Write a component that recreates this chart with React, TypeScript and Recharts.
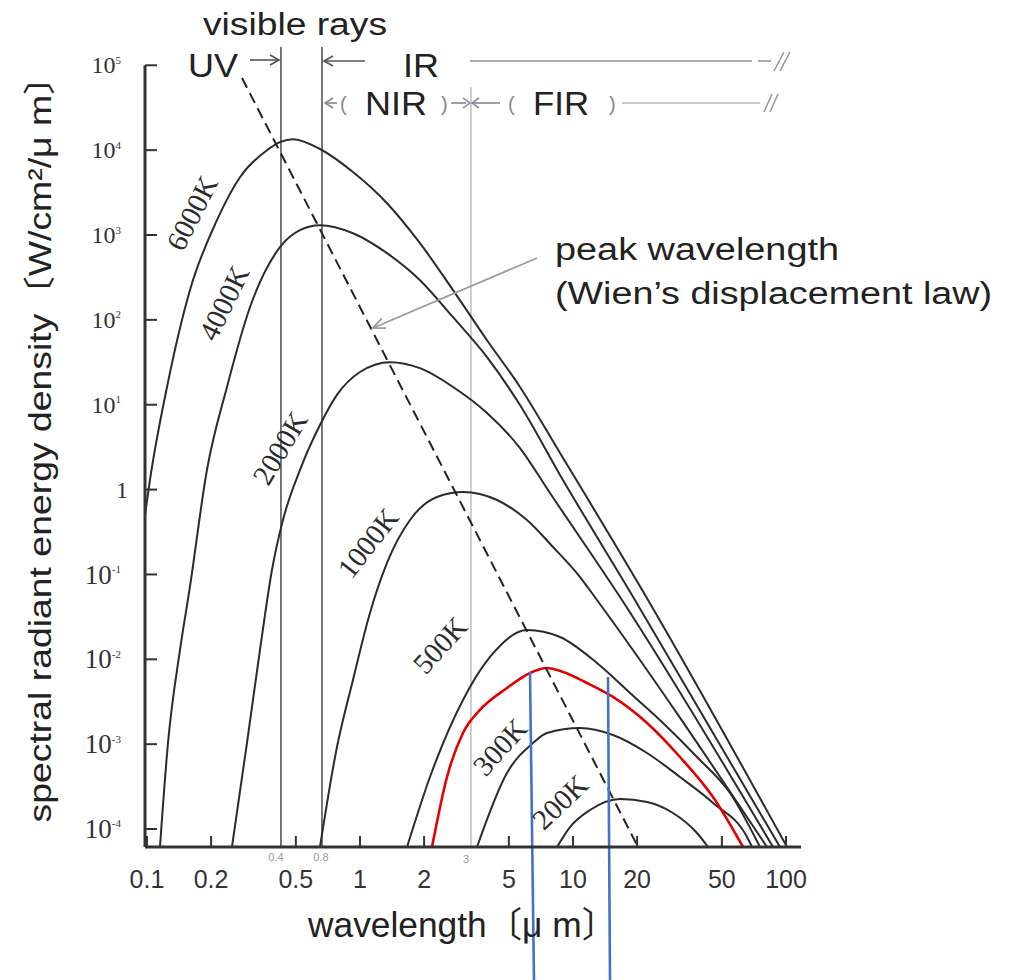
import React from "react";
import { LineChart, Line, XAxis, YAxis, ReferenceLine, ReferenceDot } from "recharts";

type Pt = { x: number; y: number };
const toPts = (rows: number[][]): Pt[] => rows.map(([x, y]) => ({ x, y }));

// axes (log-log): wavelength in µm, spectral radiant energy density in W/cm²/µm
const xTicks = [0.1, 0.2, 0.5, 1, 2, 5, 10, 20, 50, 100];
const yTicks = [1e-4, 1e-3, 1e-2, 1e-1, 1, 1e1, 1e2, 1e3, 1e4, 1e5];
const xDomain = [0.0979, 117.6];
const yDomain = [6.14e-5, 1e5];

// curves
const k6000 = toPts([
  [0.0979, 0.502], [0.1033, 1.3], [0.1242, 16.2], [0.1591, 224], [0.2131, 1495],
  [0.2733, 4800], [0.366, 9990], [0.421, 12410], [0.4846, 13470], [0.6489, 10320],
  [0.9271, 5518], [1.339, 2371], [1.913, 801], [2.734, 224],
  [3.948, 57.6], [5.639, 16.2], [8.69, 2.7], [10.79, 1.1], [22.5, 0.05], [101.1, 6.14e-5],
]);
const k4000 = toPts([
  [0.1151, 6.14e-5], [0.1255, 1.03e-3], [0.1429, 0.0129], [0.1591, 0.0712], [0.1912, 1.7],
  [0.2375, 16.2], [0.3045, 141], [0.421, 719], [0.5226, 1140], [0.6489, 1305],
  [0.9271, 1050], [1.339, 611], [1.913, 293.5], [2.734, 107.5],
  [3.948, 36.3], [5.639, 9.93], [8.69, 1.49], [18.92, 0.0573], [93.72, 6.14e-5],
]);
const k2000 = toPts([
  [0.2506, 6.14e-5], [0.2947, 1.03e-3], [0.3393, 0.0129], [0.3862, 0.1129], [0.4349, 0.438],
  [0.5226, 1.7], [0.6489, 5.77], [0.7798, 13.06], [1.0, 24.3], [1.383, 31.72],
  [1.913, 26.96], [2.734, 16.19], [3.948, 7.99], [5.639, 3.09], [7.798, 0.912],
  [16.98, 0.05], [86.9, 6.14e-5],
]);
const k1000 = toPts([
  [0.6489, 6.14e-5], [0.7798, 9.26e-4], [0.9271, 5.71e-3], [1.114, 0.0351], [1.339, 0.1365],
  [1.717, 0.438], [2.299, 0.818], [3.045, 0.937], [4.397, 0.754], [6.081, 0.438],
  [8.055, 0.2107], [10.79, 0.0933], [12.96, 0.05], [81.43, 6.14e-5],
]);
const k500 = toPts([
  [1.663, 6.14e-5], [2.131, 4.1e-4], [3.045, 3.32e-3], [4.077, 0.01065], [6.081, 0.02215],
  [8.69, 0.01832], [12.96, 0.00905], [18.52, 0.00401], [26.46, 0.001776], [38.21, 7.06e-4],
  [54.59, 2.66e-4], [75.5, 6.14e-5],
]);
const redCurve = toPts([
  [2.178, 6.14e-5], [2.562, 4.1e-4], [3.045, 1.354e-3], [3.66, 2.53e-3], [4.899, 4.59e-3],
  [6.283, 6.9e-3], [7.55, 7.9e-3], [8.977, 7.09e-3], [11.63, 5.26e-3], [15.41, 3.6e-3],
  [22.26, 1.776e-3], [31.79, 7.06e-4], [45.43, 2.38e-4], [62.84, 6.14e-5],
]);
const k300 = toPts([
  [3.543, 6.14e-5], [4.899, 4.57e-4], [6.49, 1.032e-3], [7.55, 1.354e-3], [10.79, 1.551e-3],
  [15.41, 1.282e-3], [22.26, 7.87e-4], [31.79, 4.1e-4], [45.43, 2.03e-4], [65.62, 8.05e-5],
  [69.26, 6.14e-5],
]);
const k200 = toPts([
  [8.413, 6.14e-5], [9.681, 1.056e-4], [12.02, 1.676e-4], [16.63, 2.26e-4], [22.26, 2.08e-4],
  [29.48, 1.545e-4], [38.21, 8.98e-5], [43.04, 6.14e-5],
]);
// Wien's displacement line
const wienLine = toPts([[0.2793, 7.09e4], [20.2, 6.14e-5]]);

const curveLabels = [
  { text: "6000K", x: 0.1627, y: 1817, angle: -63 },
  { text: "4000K", x: 0.2298, y: 158.1, angle: -64 },
  { text: "2000K", x: 0.421, y: 3.092, angle: -59 },
  { text: "1000K", x: 1.09, y: 0.2348, angle: -52 },
  { text: "500K", x: 2.375, y: 0.01467, angle: -48 },
  { text: "300K", x: 4.543, y: 9.26e-4, angle: -48 },
  { text: "200K", x: 8.69, y: 2.08e-4, angle: -44 },
];

// visible band edges (0.4 and 0.8 µm) and NIR/FIR boundary (3 µm)
const visibleEdges = [0.4256, 0.6631];
const firEdge = 3.32;
const blueMarkers = [
  [{ x: 6.283, y: 7.09e-3 }, { x: 6.56, y: 1.66e-6 }],
  [{ x: 14.6, y: 6.19e-3 }, { x: 14.92, y: 1.66e-6 }],
];
const peakArrow = [{ x: 6.78, y: 536 }, { x: 1.151, y: 80.2 }];

const series = [
  { key: "6000K", data: k6000, color: "#2b2b2b", width: 2 },
  { key: "4000K", data: k4000, color: "#2b2b2b", width: 2 },
  { key: "2000K", data: k2000, color: "#2b2b2b", width: 2 },
  { key: "1000K", data: k1000, color: "#2b2b2b", width: 2 },
  { key: "500K", data: k500, color: "#2b2b2b", width: 2 },
  { key: "300K", data: k300, color: "#2b2b2b", width: 2 },
  { key: "200K", data: k200, color: "#2b2b2b", width: 2 },
  { key: "red", data: redCurve, color: "#e30000", width: 2.6 },
];

const serif = "'Liberation Serif', 'DejaVu Serif', serif";
const sans = "'Liberation Sans', Arial, 'Noto Sans CJK JP', sans-serif";

function YTick({ x, y, payload }: any) {
  const e = Math.round(Math.log10(payload.value));
  const fs = e >= 0 ? 24 : 27;
  return (
    <g>
      <line x1={x} x2={x + 12} y1={y} y2={y} stroke="#333" strokeWidth={2} />
      {e === 0 ? (
        <text x={x - 17} y={y + fs * 0.34} textAnchor="end" fontFamily={serif} fontSize={fs} fill="#333">1</text>
      ) : (
        <text x={x - 24} y={y + fs * 0.34} textAnchor="end" fontFamily={serif} fontSize={fs} fill="#333">
          10<tspan fontSize={11} dy={-fs * 0.4}>{e}</tspan>
        </text>
      )}
    </g>
  );
}

function XTick({ x, y, payload }: any) {
  return (
    <g>
      <line x1={x} x2={x} y1={y} y2={y - 11} stroke="#333" strokeWidth={2} />
      <text x={x} y={y + 41} textAnchor="middle" fontFamily={sans} fontSize={25} fill="#333">
        {payload.value}
      </text>
    </g>
  );
}

const labelShape = (text: string, angle: number) => (p: any) => (
  <text
    x={p.cx}
    y={p.cy}
    transform={`rotate(${angle} ${p.cx} ${p.cy})`}
    textAnchor="middle"
    dominantBaseline="central"
    fontFamily={serif}
    fontSize={29}
    fill="#2b2b2b"
  >
    {text}
  </text>
);

function ArrowShape(p: any) {
  const { x1, y1, x2, y2 } = p;
  const a = Math.atan2(y2 - y1, x2 - x1);
  const h = 13;
  const w = 0.42;
  const ax = x2 - h * Math.cos(a - w);
  const ay = y2 - h * Math.sin(a - w);
  const bx = x2 - h * Math.cos(a + w);
  const by = y2 - h * Math.sin(a + w);
  return (
    <g>
      <line x1={x1} y1={y1} x2={x2} y2={y2} stroke="#9a9a9a" strokeWidth={1.8} />
      <polyline points={`${ax},${ay} ${x2},${y2} ${bx},${by}`} fill="none" stroke="#9a9a9a" strokeWidth={1.8} />
    </g>
  );
}

function Header() {
  const g = "#555";
  return (
    <svg width={1025} height={980} style={{ position: "absolute", left: 0, top: 0, pointerEvents: "none" }}>
      <g fontFamily={sans} fill="#222">
        <text x={203} y={35} fontSize={31} textLength={184} lengthAdjust="spacingAndGlyphs">visible rays</text>
        <text x={188} y={77} fontSize={34} textLength={50} lengthAdjust="spacingAndGlyphs">UV</text>
        <text x={403} y={77} fontSize={34} textLength={36} lengthAdjust="spacingAndGlyphs">IR</text>
        <text x={365} y={115} fontSize={34} textLength={62} lengthAdjust="spacingAndGlyphs">NIR</text>
        <text x={533} y={115} fontSize={34} textLength={56} lengthAdjust="spacingAndGlyphs">FIR</text>
        <text x={340} y={111} fontSize={20} fill="#888">(</text>
        <text x={441} y={111} fontSize={20} fill="#888">)</text>
        <text x={508} y={111} fontSize={20} fill="#888">(</text>
        <text x={609} y={111} fontSize={20} fill="#888">)</text>
      </g>
      <g fill="none" strokeWidth={1.6}>
        <line x1={250} y1={60} x2={279} y2={60} stroke={g} />
        <polyline points="270,55 279,60 270,65" stroke={g} />
        <line x1={324} y1={61} x2={365} y2={61} stroke={g} />
        <polyline points="333,56 324,61 333,66" stroke={g} />
        <line x1={470} y1={61} x2={752} y2={61} stroke="#aaa" strokeWidth={2} />
        <line x1={758} y1={61} x2={771} y2={61} stroke="#aaa" strokeWidth={2} />
        <line x1={774} y1={71} x2={784} y2={52} stroke="#999" />
        <line x1={780} y1={71} x2={790} y2={52} stroke="#999" />
        <line x1={325} y1={103} x2={337} y2={103} stroke="#888" />
        <polyline points="333,98 325,103 333,108" stroke="#888" />
        <line x1={451} y1={103} x2={466} y2={103} stroke="#888" />
        <polyline points="463,98 470,103 463,108" stroke="#8899aa" />
        <polyline points="479,98 472,103 479,108" stroke="#8899aa" />
        <line x1={472} y1={103} x2={500} y2={103} stroke="#888" />
        <line x1={622} y1={103} x2={760} y2={103} stroke="#bbb" />
        <line x1={764} y1={112} x2={772} y2={94} stroke="#999" />
        <line x1={770} y1={112} x2={778} y2={94} stroke="#999" />
      </g>
      <g fontFamily={sans} fill="#999" fontSize={11} textAnchor="middle">
        <text x={276} y={861}>0.4</text>
        <text x={321} y={861}>0.8</text>
        <text x={466} y={863}>3</text>
      </g>
      <g fontFamily={sans} fill="#222">
        <text x={555} y={260} fontSize={31} textLength={284} lengthAdjust="spacingAndGlyphs">peak wavelength</text>
        <text x={555} y={304} fontSize={31} textLength={437} lengthAdjust="spacingAndGlyphs">(Wien’s displacement law)</text>
        <text x={308} y={937} fontSize={35} textLength={309} lengthAdjust="spacingAndGlyphs">wavelength〔μ m〕</text>
        <text
          x={51}
          y={440}
          transform="rotate(-90 51 440)"
          textAnchor="middle"
          fontSize={32}
          textLength={765}
          lengthAdjust="spacingAndGlyphs"
        >
          spectral radiant energy density〔W/cm²/μ m〕
        </text>
      </g>
    </svg>
  );
}

export default function App() {
  return (
    <div style={{ position: "absolute", left: 0, top: 0, width: 1025, height: 980, background: "#fff" }}>
      <LineChart width={1025} height={980} margin={{ top: 65.3, right: 224, bottom: 103, left: 85 }}>
        <XAxis
          type="number"
          dataKey="x"
          scale="log"
          domain={xDomain}
          ticks={xTicks}
          interval={0}
          allowDataOverflow
          height={30}
          tickSize={0}
          tickMargin={0}
          tickLine={false}
          axisLine={{ stroke: "#333", strokeWidth: 3 }}
          tick={(p: any) => <XTick {...p} />}
        />
        <YAxis
          type="number"
          dataKey="y"
          scale="log"
          domain={yDomain}
          ticks={yTicks}
          interval={0}
          allowDataOverflow
          width={60}
          tickSize={0}
          tickMargin={0}
          tickLine={false}
          axisLine={{ stroke: "#333", strokeWidth: 3 }}
          tick={(p: any) => <YTick {...p} />}
        />
        {visibleEdges.map((v) => (
          <ReferenceLine
            key={v}
            segment={[{ x: v, y: 1.643e5 }, { x: v, y: yDomain[0] }]}
            stroke="#555"
            strokeWidth={1.6}
            ifOverflow="visible"
          />
        ))}
        <ReferenceLine
          segment={[{ x: firEdge, y: 5.55e4 }, { x: firEdge, y: yDomain[0] }]}
          stroke="#c4c4c4"
          strokeWidth={1.6}
          ifOverflow="visible"
        />
        {series.map((s) => (
          <Line
            key={s.key}
            data={s.data}
            dataKey="y"
            type="monotone"
            stroke={s.color}
            strokeWidth={s.width}
            dot={false}
            activeDot={false}
            isAnimationActive={false}
          />
        ))}
        <Line
          data={wienLine}
          dataKey="y"
          type="linear"
          stroke="#222"
          strokeWidth={2}
          strokeDasharray="11 6"
          dot={false}
          activeDot={false}
          isAnimationActive={false}
        />
        <ReferenceLine segment={peakArrow} ifOverflow="visible" shape={(p: any) => <ArrowShape {...p} />} />
        {curveLabels.map((l) => (
          <ReferenceDot key={l.text} x={l.x} y={l.y} r={0} ifOverflow="visible" shape={labelShape(l.text, l.angle)} />
        ))}
        {blueMarkers.map((seg, i) => (
          <ReferenceLine key={i} segment={seg} stroke="#4472c4" strokeWidth={2.6} ifOverflow="visible" />
        ))}
      </LineChart>
      <Header />
    </div>
  );
}
